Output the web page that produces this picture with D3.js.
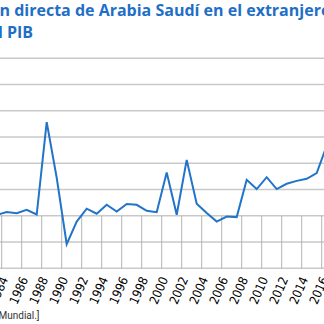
<!DOCTYPE html>
<html>
<head>
<meta charset="utf-8">
<script src="https://cdn.jsdelivr.net/npm/d3@7"></script>
<style>
  html, body { margin: 0; padding: 0; background: #fff; overflow: hidden; }
  svg { display: block; }
</style>
</head>
<body>
<div id="chart"></div>
<script>
// Data: FDI outflows of Saudi Arabia, % of GDP
// =================================
var years = [1984, 1985, 1986, 1987, 1988, 1989, 1990, 1991, 1992, 1993,
             1994, 1995, 1996, 1997, 1998, 1999, 2000, 2001, 2002, 2003,
             2004, 2005, 2006, 2007, 2008, 2009, 2010, 2011, 2012, 2013,
             2014, 2015, 2016, 2017];
var outflows = [0.03, 0.14, 0.10, 0.23, 0.05, 3.57, 1.45, -1.08, -0.22, 0.27,
                0.08, 0.42, 0.16, 0.45, 0.42, 0.19, 0.14, 1.65, 0.04, 2.13,
                0.46, 0.11, -0.22, -0.03, -0.05, 1.37, 1.02, 1.47, 1.02, 1.22,
                1.33, 1.41, 1.63, 2.67];
var yTicks = [-2, -1, 0, 1, 2, 3, 4, 5, 6];
var xLabelYears = years.filter(d => d % 2 === 0);

var titleLines = ["Inversión directa de Arabia Saudí en el extranjero", "en % del PIB"];
var sourceText = "[Fuente: Banco Mundial.]";

// Step 1: chart size
// =================================
var svgWidth  = 324;
var svgHeight = 324;

var plot = {
  left:   -8.3,
  top:    58.3,
  bottom: 268.3
};
var step = 10;

var svg = d3.select("#chart")
  .append("svg")
  .attr("width", svgWidth)
  .attr("height", svgHeight);

// Step 2: scales
// =================================
var xScale = d3.scaleBand()
  .domain(years)
  .range([plot.left, plot.left + years.length * step])
  .paddingInner(0)
  .paddingOuter(0);

var yScale = d3.scaleLinear()
  .domain([d3.min(yTicks), d3.max(yTicks)])
  .range([plot.bottom, plot.top]);

var xMid = d => xScale(d) + xScale.bandwidth() / 2;

// Step 3: grid
// =================================
svg.append("g")
  .attr("class", "hgrid")
  .selectAll("line")
  .data(yTicks)
.enter().append("line")
  .attr("x1", plot.left)
  .attr("x2", plot.left + years.length * step)
  .attr("y1", d => yScale(d))
  .attr("y2", d => yScale(d))
  .attr("stroke", "#c9c9c9")
  .attr("stroke-width", 1.4);

// vertical dividers every two years, only below zero
svg.append("g")
  .attr("class", "vgrid")
  .selectAll("line")
  .data(xLabelYears)
.enter().append("line")
  .attr("x1", d => xScale(d) + xScale.bandwidth())
  .attr("x2", d => xScale(d) + xScale.bandwidth())
  .attr("y1", yScale(0))
  .attr("y2", yScale(d3.min(yTicks)))
  .attr("stroke", "#b4b4b4")
  .attr("stroke-width", 1);

// Step 4: x labels
// =================================
svg.append("g")
  .attr("class", "xLabels")
  .selectAll("text")
  .data(xLabelYears)
.enter().append("text")
  .attr("transform", d => `translate(${xMid(d) + 2}, 290.5) rotate(-66)`)
  .attr("text-anchor", "middle")
  .attr("dy", "0.35em")
  .style("font-family", "'Liberation Sans Narrow', 'DejaVu Sans Condensed', sans-serif")
  .style("font-size", "12.5px")
  .attr("fill", "#000")
  .text(d => d);

// Step 5: the line
// =================================
var line = d3.line()
  .x((d, i) => xMid(years[i]))
  .y(d => yScale(d));

svg.append("path")
  .datum(outflows)
  .attr("d", line)
  .attr("fill", "none")
  .attr("stroke", "#2174c8")
  .attr("stroke-width", 2)
  .attr("stroke-linejoin", "miter");

// Step 6: title and source
// =================================
var titleFont = "'Open Sans', Roboto, sans-serif";
var titleSize = 16;

function measure(str, size, weight, family) {
  var t = svg.append("text")
    .style("font-family", family)
    .style("font-size", size + "px")
    .style("font-weight", weight)
    .text(str);
  var w = t.node().getComputedTextLength();
  t.remove();
  return w;
}

// first line: "n directa" starts at the left edge
var cut1 = measure("Inversió", titleSize, 700, titleFont);
svg.append("text")
  .attr("x", -cut1 - 0.5)
  .attr("y", 15.5)
  .style("font-family", titleFont)
  .style("font-size", titleSize + "px")
  .style("font-weight", 700)
  .attr("fill", "#1f6fc6")
  .text(titleLines[0]);

// second line: "PIB" starts a few pixels in
// (trailing spaces get collapsed, so measure the whole line minus "PIB")
var cut2 = measure(titleLines[1], titleSize, 700, titleFont) -
           measure("PIB", titleSize, 700, titleFont);
svg.append("text")
  .attr("x", 7 - cut2)
  .attr("y", 38.3)
  .style("font-family", titleFont)
  .style("font-size", titleSize + "px")
  .style("font-weight", 700)
  .attr("fill", "#1f6fc6")
  .text(titleLines[1]);

svg.append("text")
  .attr("x", 39.5)
  .attr("y", 318.5)
  .attr("text-anchor", "end")
  .style("font-family", "Roboto, sans-serif")
  .style("font-size", "10px")
  .attr("fill", "#333")
  .text(sourceText);
</script>
</body>
</html>
